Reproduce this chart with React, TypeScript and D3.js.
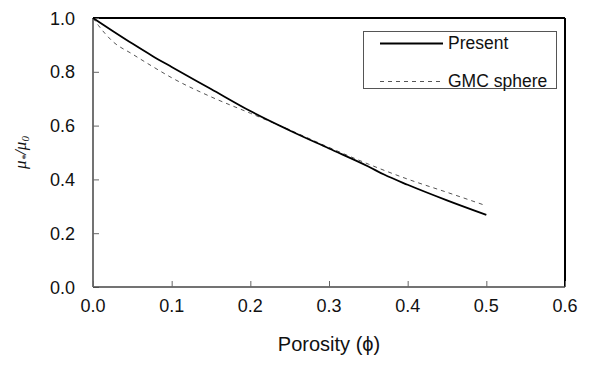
import { useEffect, useRef } from 'react';
import * as d3 from 'd3';

// porosity values (phi) where the curves were read
const presentPhi = [0, 0.025, 0.05, 0.075, 0.1, 0.15, 0.2, 0.25, 0.3, 0.35, 0.37, 0.4, 0.45, 0.5];
const presentVal = [1.0, 0.952, 0.905, 0.86, 0.818, 0.736, 0.654, 0.582, 0.515, 0.448, 0.418, 0.38, 0.322, 0.268];

const gmcPhi = [0, 0.007, 0.025, 0.05, 0.075, 0.1, 0.15, 0.2, 0.25, 0.3, 0.35, 0.4, 0.45, 0.5];
const gmcVal = [1.0, 0.972, 0.913, 0.866, 0.821, 0.778, 0.707, 0.646, 0.584, 0.519, 0.457, 0.401, 0.352, 0.302];

const xTicks = [0, 0.1, 0.2, 0.3, 0.4, 0.5, 0.6];
const yTicks = [0, 0.2, 0.4, 0.6, 0.8, 1.0];

const legendItems = ['Present', 'GMC sphere'];

export default function App() {
  const svgRef = useRef(null);

  useEffect(() => {
    const svg = d3.select(svgRef.current);
    const width = 590;
    const height = 370;
    const margin = { top: 18, right: 25, bottom: 83, left: 93 };
    const font = 'Liberation Sans, Arial, Helvetica, sans-serif';

    svg.attr('width', width).attr('height', height);
    svg.selectAll('*').remove();

    const x = d3.scaleLinear().domain([0, 0.6]).range([margin.left, width - margin.right]);
    const y = d3.scaleLinear().domain([0, 1]).range([height - margin.bottom, margin.top]);

    // frame: top and right black, left and bottom dark gray
    svg.append('line')
      .attr('x1', x(0)).attr('x2', x(0.6)).attr('y1', y(1)).attr('y2', y(1))
      .attr('stroke', '#000').attr('stroke-width', 2);
    svg.append('line')
      .attr('x1', x(0.6)).attr('x2', x(0.6)).attr('y1', y(1)).attr('y2', y(0))
      .attr('stroke', '#000').attr('stroke-width', 2);

    const yAxis = svg.append('g')
      .attr('transform', `translate(${x(0)},0)`)
      .call(d3.axisRight(y).tickValues(yTicks).tickSize(6).tickFormat(() => ''));
    yAxis.select('.domain').attr('stroke', '#444').attr('stroke-width', 1.5).attr('d', `M0,${y(0)}V${y(1)}`);
    yAxis.selectAll('.tick line').attr('stroke', '#666');

    const xAxis = svg.append('g')
      .attr('transform', `translate(0,${y(0)})`)
      .call(d3.axisTop(x).tickValues(xTicks).tickSize(6).tickFormat(() => ''));
    xAxis.select('.domain').attr('stroke', '#444').attr('stroke-width', 1.5).attr('d', `M${x(0)},0H${x(0.6)}`);
    xAxis.selectAll('.tick line').attr('stroke', '#666');

    // tick labels
    svg.append('g')
      .selectAll('text')
      .data(yTicks)
      .join('text')
      .attr('x', x(0) - 18)
      .attr('y', (d) => y(d) + 6.5)
      .attr('text-anchor', 'end')
      .attr('font-family', font)
      .attr('font-size', 18)
      .attr('fill', '#111')
      .text((d) => d.toFixed(1));

    svg.append('g')
      .selectAll('text')
      .data(xTicks)
      .join('text')
      .attr('x', (d) => x(d))
      .attr('y', y(0) + 25)
      .attr('text-anchor', 'middle')
      .attr('font-family', font)
      .attr('font-size', 18)
      .attr('fill', '#111')
      .text((d) => d.toFixed(1));

    // axis titles
    svg.append('text')
      .attr('x', (x(0) + x(0.6)) / 2)
      .attr('y', 351)
      .attr('text-anchor', 'middle')
      .attr('font-family', font)
      .attr('font-size', 20)
      .attr('fill', '#111')
      .text('Porosity (ϕ)');

    const yTitle = svg.append('text')
      .attr('transform', `translate(26,${(y(0) + y(1)) / 2}) rotate(-90)`)
      .attr('text-anchor', 'middle')
      .attr('font-family', 'Liberation Serif, Times New Roman, serif')
      .attr('font-style', 'italic')
      .attr('font-size', 17)
      .attr('fill', '#111');
    yTitle.append('tspan').text('μ');
    yTitle.append('tspan').attr('font-size', 11).attr('dy', 3).text('*');
    yTitle.append('tspan').attr('dy', -3).text('/μ');
    yTitle.append('tspan').attr('font-size', 11).attr('dy', 3).text('0');

    // curves
    const line = d3.line()
      .x((d) => x(d[0]))
      .y((d) => y(d[1]))
      .curve(d3.curveMonotoneX);

    svg.append('path')
      .datum(gmcPhi.map((p, i) => [p, gmcVal[i]]))
      .attr('fill', 'none')
      .attr('stroke', '#555')
      .attr('stroke-width', 1)
      .attr('stroke-dasharray', '4,4')
      .attr('d', line);

    svg.append('path')
      .datum(presentPhi.map((p, i) => [p, presentVal[i]]))
      .attr('fill', 'none')
      .attr('stroke', '#000')
      .attr('stroke-width', 1.8)
      .attr('d', line);

    // legend
    const lg = svg.append('g');
    lg.append('rect')
      .attr('x', 363.5).attr('y', 31.5).attr('width', 193).attr('height', 57)
      .attr('fill', '#fff').attr('stroke', '#555').attr('stroke-width', 1);
    legendItems.forEach((name, i) => {
      const ly = 43.5 + i * 38;
      lg.append('line')
        .attr('x1', 380).attr('x2', 443).attr('y1', ly).attr('y2', ly)
        .attr('stroke', i === 0 ? '#000' : '#555')
        .attr('stroke-width', i === 0 ? 1.8 : 1)
        .attr('stroke-dasharray', i === 0 ? null : '4,4');
      lg.append('text')
        .attr('x', 448).attr('y', ly + 5)
        .attr('font-family', font)
        .attr('font-size', 17.5)
        .attr('fill', '#111')
        .text(name);
    });
  }, []);

  return <svg ref={svgRef} style={{ position: 'absolute', left: 0, top: 0 }}></svg>;
}
